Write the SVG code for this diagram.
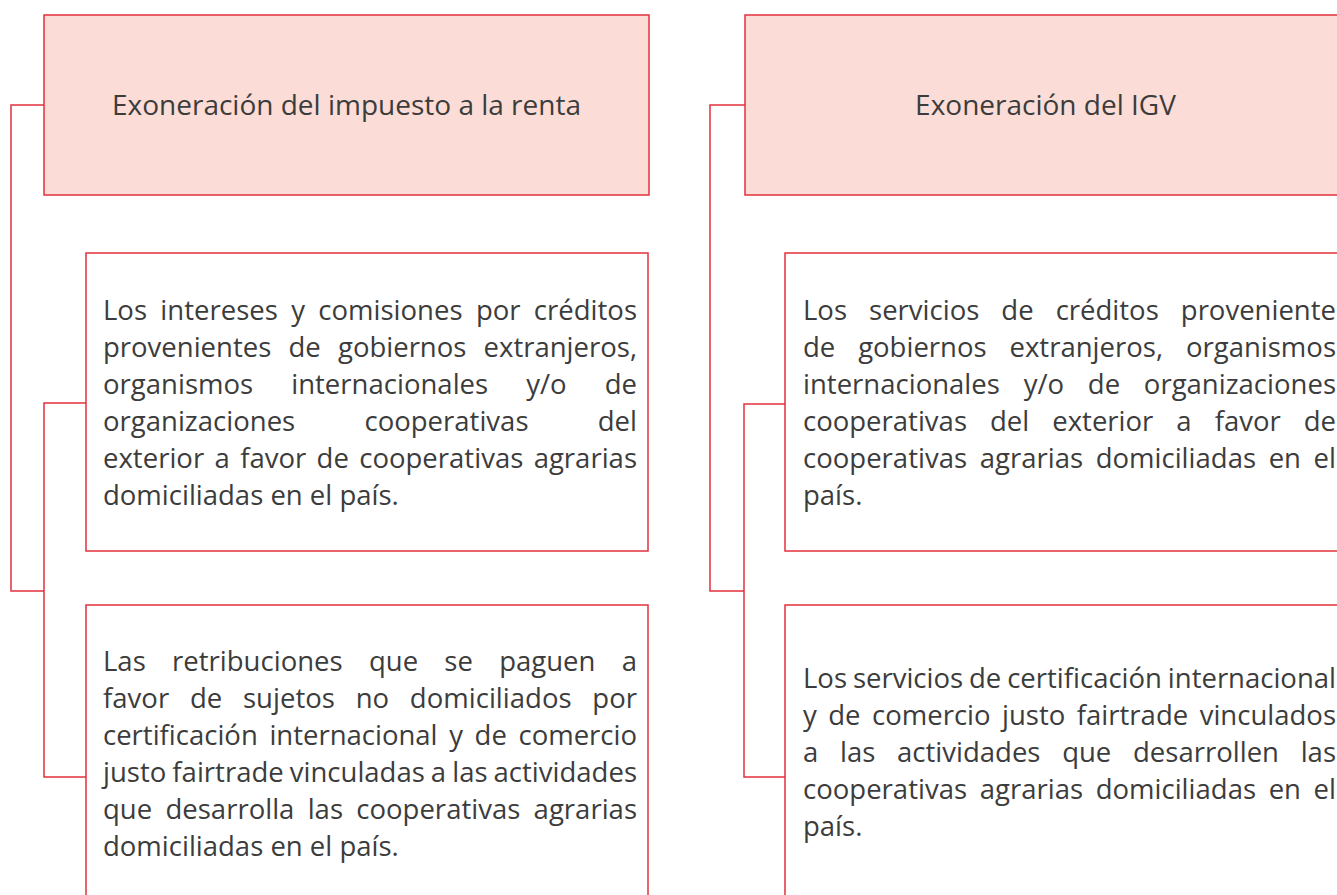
<svg xmlns="http://www.w3.org/2000/svg" width="1337" height="895" viewBox="0 0 1337 895">
<style>
.hdr{fill:#fbdcd6;stroke:#e4303d;stroke-width:1.5}
.box{fill:#ffffff;stroke:#e4303d;stroke-width:1.5}
.con{fill:none;stroke:#e4303d;stroke-width:1.5}
text{font-family:"Open Sans","Liberation Sans",sans-serif;fill:#3c3c3c}
.h{font-size:28px;text-anchor:middle}
.b{font-size:27.5px}
</style>
<rect width="1337" height="895" fill="#ffffff"/>
<g id="connectors">
<path class="con" d="M44,105 H11 V591 H44"/>
<path class="con" d="M86,403 H44 V777 H86"/>
<path class="con" d="M745,105 H710 V591 H744"/>
<path class="con" d="M785,404 H744 V777 H785"/>
</g>
<g id="renta-header">
<rect class="hdr" x="44" y="15" width="605" height="180"/>
<text class="h" x="346.5" y="115">Exoneración del impuesto a la renta</text>
</g>
<g id="renta-intereses">
<rect class="box" x="86" y="253" width="562" height="298"/>
<text class="b" x="103" y="320" word-spacing="6.2" textLength="534" lengthAdjust="spacing">Los intereses y comisiones por créditos</text>
<text class="b" x="103" y="357" word-spacing="10.1" textLength="534" lengthAdjust="spacing">provenientes de gobiernos extranjeros,</text>
<text class="b" x="103" y="394" word-spacing="30.9" textLength="534" lengthAdjust="spacing">organismos internacionales y/o de</text>
<text class="b" x="103" y="431" word-spacing="62.1" textLength="534" lengthAdjust="spacing">organizaciones cooperativas del</text>
<text class="b" x="103" y="468" word-spacing="3.2" textLength="534" lengthAdjust="spacing">exterior a favor de cooperativas agrarias</text>
<text class="b" x="103" y="505">domiciliadas en el país.</text>
</g>
<g id="renta-retribuciones">
<rect class="box" x="86" y="605" width="562" height="310"/>
<text class="b" x="103" y="671" word-spacing="19.1" textLength="534" lengthAdjust="spacing">Las retribuciones que se paguen a</text>
<text class="b" x="103" y="708" word-spacing="13.6" textLength="534" lengthAdjust="spacing">favor de sujetos no domiciliados por</text>
<text class="b" x="103" y="745" word-spacing="4.5" textLength="534" lengthAdjust="spacing">certificación internacional y de comercio</text>
<text class="b" x="103" y="782" word-spacing="-1.1" textLength="534" lengthAdjust="spacing">justo fairtrade vinculadas a las actividades</text>
<text class="b" x="103" y="819" word-spacing="6.1" textLength="534" lengthAdjust="spacing">que desarrolla las cooperativas agrarias</text>
<text class="b" x="103" y="856">domiciliadas en el país.</text>
</g>
<g id="igv-header">
<rect class="hdr" x="745" y="15" width="620" height="180"/>
<text class="h" x="1045.5" y="115">Exoneración del IGV</text>
</g>
<g id="igv-creditos">
<rect class="box" x="785" y="253" width="580" height="298"/>
<text class="b" x="803" y="320" word-spacing="14.9" textLength="533" lengthAdjust="spacing">Los servicios de créditos proveniente</text>
<text class="b" x="803" y="357" word-spacing="15.7" textLength="533" lengthAdjust="spacing">de gobiernos extranjeros, organismos</text>
<text class="b" x="803" y="394" word-spacing="16.6" textLength="533" lengthAdjust="spacing">internacionales y/o de organizaciones</text>
<text class="b" x="803" y="431" word-spacing="15.85" textLength="533" lengthAdjust="spacing">cooperativas del exterior a favor de</text>
<text class="b" x="803" y="468" word-spacing="5.45" textLength="533" lengthAdjust="spacing">cooperativas agrarias domiciliadas en el</text>
<text class="b" x="803" y="505">país.</text>
</g>
<g id="igv-certificacion">
<rect class="box" x="785" y="605" width="580" height="310"/>
<text class="b" x="803" y="688" word-spacing="-1.25" textLength="533" lengthAdjust="spacing">Los servicios de certificación internacional</text>
<text class="b" x="803" y="725" word-spacing="4.3" textLength="533" lengthAdjust="spacing">y de comercio justo fairtrade vinculados</text>
<text class="b" x="803" y="762" word-spacing="14.55" textLength="533" lengthAdjust="spacing">a las actividades que desarrollen las</text>
<text class="b" x="803" y="799" word-spacing="5.45" textLength="533" lengthAdjust="spacing">cooperativas agrarias domiciliadas en el</text>
<text class="b" x="803" y="836">país.</text>
</g>
</svg>
